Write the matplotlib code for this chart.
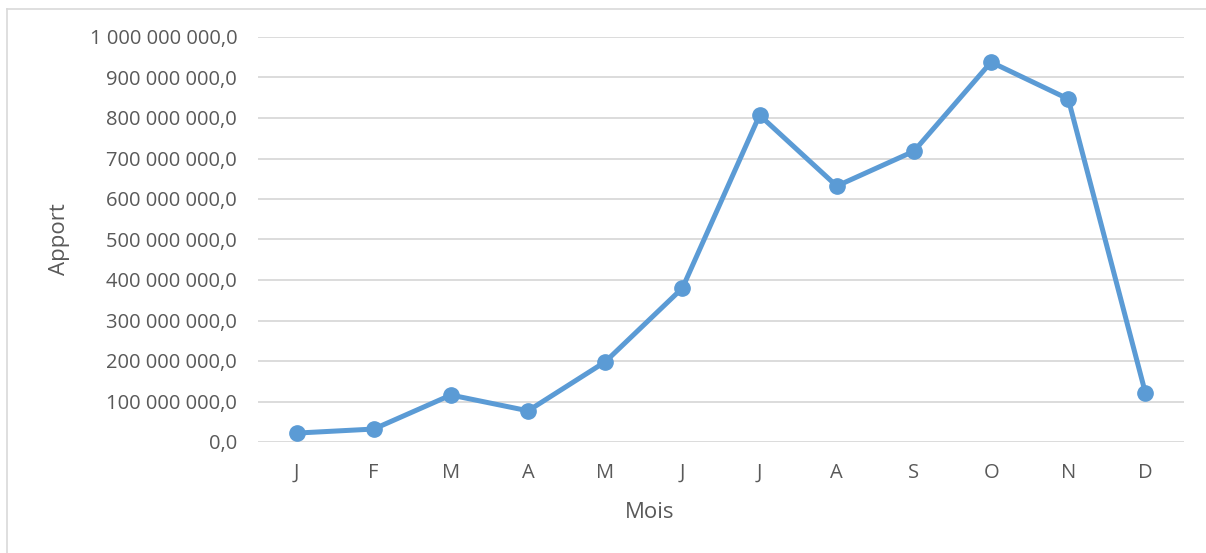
import matplotlib.pyplot as plt
from matplotlib.ticker import FuncFormatter
from matplotlib.lines import Line2D

mois = ["J", "F", "M", "A", "M", "J", "J", "A", "S", "O", "N", "D"]
apport = [22e6, 32e6, 116e6, 77e6, 198e6, 380e6, 807e6, 632e6, 718e6, 938e6, 847e6, 121e6]

plt.rcParams['font.family'] = ['Open Sans', 'DejaVu Sans']
txt = "#595959"

fig = plt.figure(figsize=(12.06, 5.53), dpi=100)
ax = fig.add_axes([258 / 1206, 1 - 442 / 553, (1184 - 258) / 1206, (442 - 37) / 553])

x = range(len(mois))
ax.plot(x, apport, color="#5B9BD5", linewidth=3.6, marker="o", markersize=11,
        solid_capstyle="round", zorder=3)

ax.set_xlim(-0.5, len(mois) - 0.5)
ax.set_ylim(0, 1e9)
ax.set_yticks([i * 1e8 for i in range(11)])
ax.set_xticks(list(x))
ax.set_xticklabels(mois)


def fmt(v, pos):
    s = f"{v:,.1f}"
    return s.replace(",", " ").replace(".", ",")


ax.yaxis.set_major_formatter(FuncFormatter(fmt))
ax.grid(axis="y", color="#d9d9d9", linewidth=1.3)
ax.set_axisbelow(True)
for s in ax.spines.values():
    s.set_visible(False)
ax.tick_params(length=0, colors=txt, labelsize=14.5, pad=15)
ax.tick_params(axis="x", pad=15)

ax.set_ylabel("Apport", color=txt, fontsize=16)
ax.set_xlabel("Mois", color=txt, fontsize=16)
ax.yaxis.set_label_coords((60 - 258) / 926, 0.5)
ax.xaxis.set_label_coords((650 - 258) / 926, (442 - 513) / 405)
ax.xaxis.label.set_va("center")
ax.yaxis.label.set_va("center")

# chart area border
fig.add_artist(Line2D([7 / 1206, 1.0], [1 - 9 / 553] * 2, color="#d9d9d9", lw=1.2))
fig.add_artist(Line2D([7 / 1206] * 2, [0, 1 - 9 / 553], color="#d9d9d9", lw=1.2))

fig.savefig("out.png", dpi=100)
